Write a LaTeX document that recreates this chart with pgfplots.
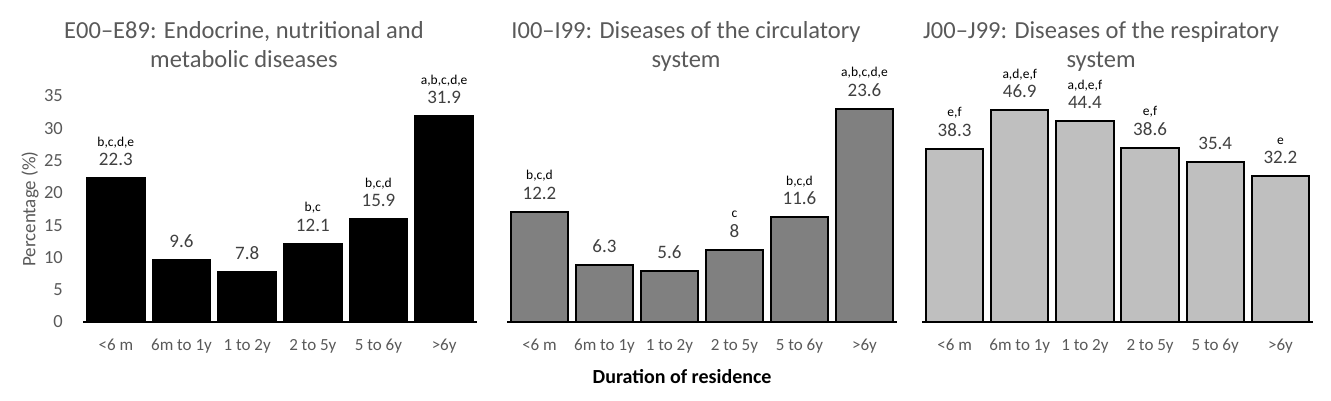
\documentclass[border=0pt]{standalone}
\usepackage{fontspec}
\setmainfont{Carlito}
\usepackage{pgfplots}
\pgfplotsset{compat=1.18}
\definecolor{txtgray}{HTML}{595959}
\definecolor{valgray}{HTML}{404040}
\definecolor{midgray}{HTML}{808080}
\definecolor{ltgray}{HTML}{BFBFBF}
\pgfplotsset{
  /pgf/number format/assume math mode=true,
  panel/.style={
    scale only axis, height=226pt, anchor=south west, clip=false,
    xmin=-0.5, xmax=5.5, ymin=0,
    axis lines*=left,
    x axis line style={line width=2pt, black},
    y axis line style={draw=none},
    major tick length=0pt,
    xtick={0,...,5},
    xticklabels={{<6 m},{6m to 1y},{1 to 2y},{2 to 5y},{5 to 6y},{>6y}},
    xticklabel style={anchor=north, inner sep=0pt, yshift=-17pt, text=txtgray, font=\fontsize{17}{17}\selectfont},
    title style={anchor=north, inner sep=0pt, yshift=68.5pt, align=center, text=txtgray, font=\fontsize{24.5}{28.7}\selectfont},
  },
  bars/.style={ybar, bar width=0.88, bar shift=0pt, draw=black, line width=2pt, fill=#1,
    point meta=y,
    nodes near coords={\pgfmathprintnumber{\pgfplotspointmeta}},
    every node near coord/.append style={anchor=base, yshift=12.5pt, inner sep=0pt, text=valgray, font=\fontsize{19}{19}\selectfont}},
  letters/.style={draw=none, mark=none, forget plot, point meta=explicit symbolic,
    nodes near coords,
    every node near coord/.append style={anchor=base, yshift=32pt, inner sep=0pt, text=black, font=\fontsize{13.5}{13.5}\selectfont}},
}
\begin{document}
\begin{tikzpicture}
\path[use as bounding box] (0,0) rectangle (1331pt,401pt);
% Panel 1
\begin{axis}[panel, at={(83pt,79pt)}, width=394pt, ymax=35,
  ytick={0,5,...,35},
  yticklabel style={anchor=east, inner sep=0pt, xshift=-20pt, text=txtgray, font=\fontsize{18.5}{18.5}\selectfont},
  ylabel={Percentage (\%)},
  ylabel style={at={(axis description cs:-0.1345,0.5)}, anchor=center, inner sep=0pt, text=txtgray, font=\fontsize{19}{19}\selectfont},
  title={E00\textendash E89: Endocrine, nutritional and\\metabolic diseases},
  title style={at={(axis description cs:0.4086,1)}},
]
\addplot[bars=black] coordinates {(0,22.3) (1,9.6) (2,7.8) (3,12.1) (4,15.9) (5,31.9)};
\addplot[letters] coordinates {(0,22.3)[{b,c,d,e}] (3,12.1)[{b,c}] (4,15.9)[{b,c,d}] (5,31.9)[{a,b,c,d,e}]};
\end{axis}
% Panel 2
\begin{axis}[panel, at={(507pt,79pt)}, width=390pt, ymax=25,
  ytick=\empty,
  title={I00\textendash I99: Diseases of the circulatory\\system},
  title style={at={(axis description cs:0.459,1)}},
  xlabel={Duration of residence},
  xlabel style={at={(axis description cs:0.449,-0.27)}, anchor=base, inner sep=0pt, text=black, font=\fontsize{20}{20}\selectfont\bfseries},
]
\addplot[bars=midgray] coordinates {(0,12.2) (1,6.3) (2,5.6) (3,8) (4,11.6) (5,23.6)};
\addplot[letters] coordinates {(0,12.2)[{b,c,d}] (3,8)[{c}] (4,11.6)[{b,c,d}] (5,23.6)[{a,b,c,d,e}]};
\end{axis}
% Panel 3
\begin{axis}[panel, at={(922pt,79pt)}, width=391pt, ymax=50,
  ytick=\empty,
  title={J00\textendash J99: Diseases of the respiratory\\system},
  title style={at={(axis description cs:0.458,1)}},
]
\addplot[bars=ltgray] coordinates {(0,38.3) (1,46.9) (2,44.4) (3,38.6) (4,35.4) (5,32.2)};
\addplot[letters] coordinates {(0,38.3)[{e,f}] (1,46.9)[{a,d,e,f}] (2,44.4)[{a,d,e,f}] (3,38.6)[{e,f}] (5,32.2)[{e}]};
\end{axis}
\end{tikzpicture}
\end{document}
